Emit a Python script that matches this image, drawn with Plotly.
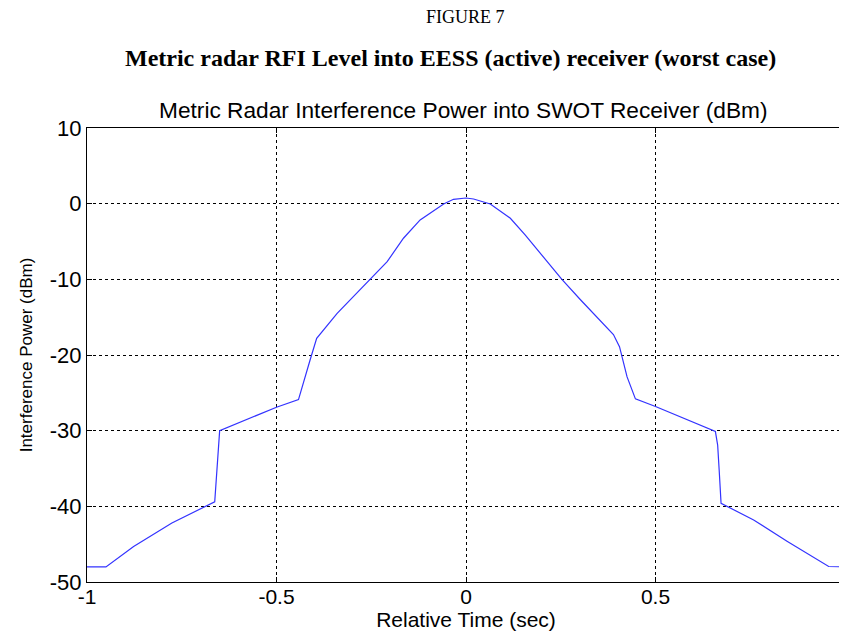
import plotly.graph_objects as go

time_sec = [-1.0, -0.95, -0.877, -0.776, -0.663, -0.657, -0.650, -0.5, -0.442,
            -0.411, -0.394, -0.340, -0.297, -0.254, -0.208, -0.165, -0.121,
            -0.059, -0.033, 0.0, 0.020, 0.064, 0.117, 0.156, 0.196, 0.253,
            0.302, 0.346, 0.389, 0.405, 0.425, 0.447, 0.5, 0.658, 0.664,
            0.668, 0.673, 0.759, 0.847, 0.957, 1.0]
power_dbm = [-48.0, -48.0, -45.3, -42.2, -39.4, -34.7, -30.0, -26.9, -25.9,
             -20.6, -17.8, -14.5, -12.3, -10.0, -7.66, -4.57, -2.15,
             -0.04, 0.58, 0.75, 0.62, -0.04, -1.93, -4.13, -6.55, -10.0,
             -12.7, -15.1, -17.3, -18.9, -22.9, -25.8, -26.8, -30.1, -31.9,
             -35.2, -39.6, -41.8, -44.6, -47.95, -48.0]

x_ticks = [-1, -0.5, 0, 0.5, 1]
x_labels = ["-1", "-0.5", "0", "0.5", "1"]
y_ticks = [10, 0, -10, -20, -30, -40, -50]
y_labels = ["10", "0", "-10", "-20", "-30", "-40", "-50"]

fig = go.Figure()
fig.add_trace(go.Scatter(x=time_sec, y=power_dbm, mode="lines",
                         line=dict(color="#3333ff", width=1.2), showlegend=False))

sans = "Liberation Sans, Arial"
serif = "Liberation Serif, Times New Roman"

# page body adds an 8px margin, so the figure is 8px smaller each way
fig.update_layout(
    width=839, height=624,
    margin=dict(l=79, r=2, t=120, b=50),
    paper_bgcolor="white", plot_bgcolor="white",
    font=dict(family=sans, size=22, color="black"),
    annotations=[
        dict(text="FIGURE 7", x=0.499, y=1.2445, xref="paper", yref="paper",
             yanchor="middle", showarrow=False, font=dict(family=serif, size=18)),
        dict(text="<b>Metric radar RFI Level into EESS (active) receiver (worst case)</b>",
             x=0.479, y=1.154, xref="paper", yref="paper", yanchor="middle",
             showarrow=False, font=dict(family=serif, size=24)),
        dict(text="Metric Radar Interference Power into SWOT Receiver (dBm)",
             x=0.497, y=1.0, xref="paper", yref="paper", yanchor="bottom", yshift=3,
             showarrow=False, font=dict(family=sans, size=22.7)),
    ],
)

fig.update_xaxes(range=[-1, 1], tickvals=x_ticks, ticktext=x_labels, automargin=False,
                 ticklabeloverflow="allow", ticklabelstandoff=-4, tickfont=dict(size=21),
                 showgrid=True, gridcolor="black", gridwidth=1, griddash="dot",
                 showline=True, linecolor="black", linewidth=1, mirror="ticks",
                 ticks="inside", ticklen=5, tickcolor="black",
                 zeroline=False, title=dict(text="Relative Time (sec)", standoff=5,
                                            font=dict(size=21)))
fig.update_yaxes(range=[-50, 10], tickvals=y_ticks, ticktext=y_labels, automargin=False,
                 showgrid=True, gridcolor="black", gridwidth=1, griddash="3px,3px",
                 showline=True, linecolor="black", linewidth=1, mirror="ticks",
                 ticks="inside", ticklen=5, tickcolor="black",
                 zeroline=False, title=dict(text="Interference Power (dBm)", standoff=12,
                                            font=dict(size=17)))

fig.write_html("out.html")
